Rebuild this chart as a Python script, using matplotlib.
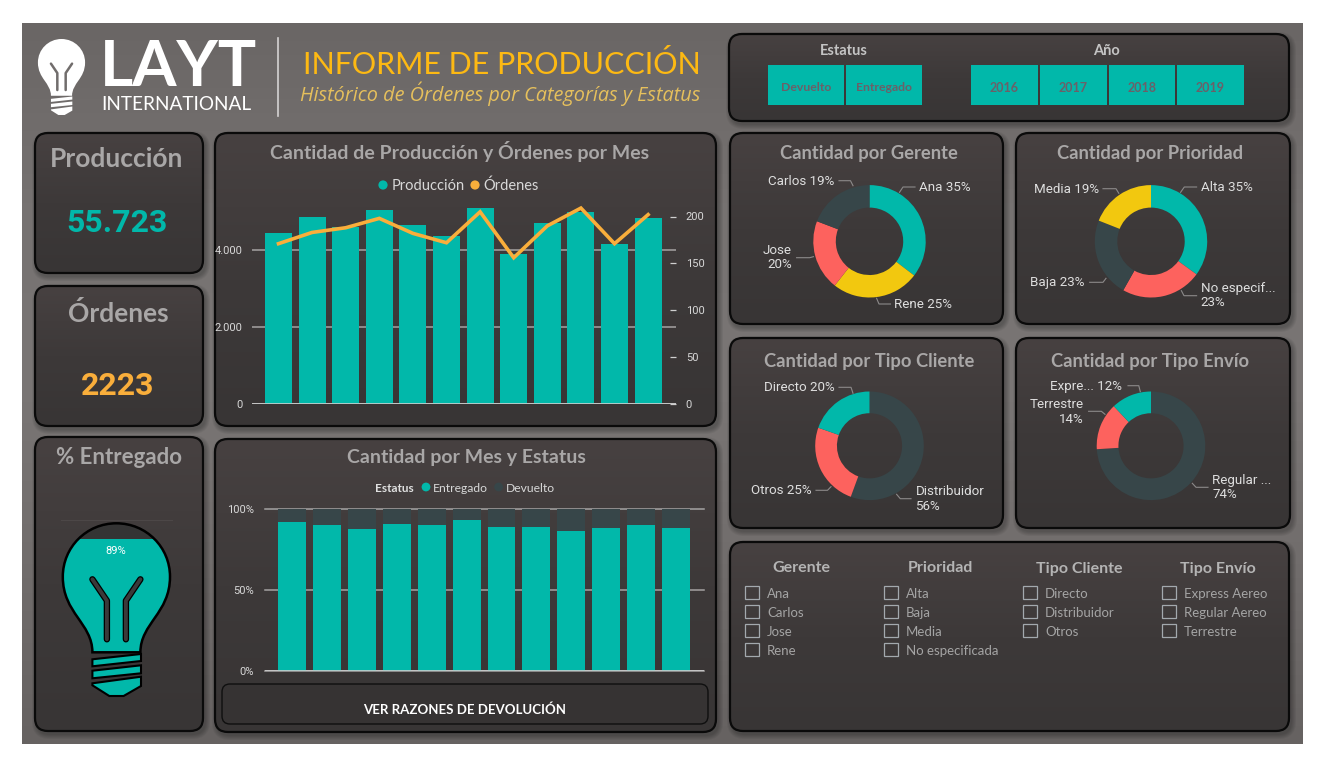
import numpy as np
import matplotlib
matplotlib.use("Agg")
import matplotlib.pyplot as plt
from matplotlib.patches import FancyBboxPatch, PathPatch, Polygon, Rectangle
from matplotlib.path import Path
from matplotlib.colors import LinearSegmentedColormap

W, H = 1323, 761

# datos
meses = ["Ene", "Feb", "Mar", "Abr", "May", "Jun", "Jul", "Ago", "Sep", "Oct", "Nov", "Dic"]
produccion = [4442, 4857, 4597, 5039, 4650, 4364, 5091, 3896, 4700, 4987, 4156, 4831]
ordenes = [171, 183, 188, 198, 182, 172, 205, 156, 190, 209, 171, 202]
entregado = [91.8, 89.9, 87.4, 91.0, 89.9, 93.0, 88.7, 88.7, 86.2, 88.0, 89.9, 88.0]
devuelto = [8.2, 10.1, 12.6, 9.0, 10.1, 7.0, 11.3, 11.3, 13.8, 12.0, 10.1, 12.0]

gerente_val = [35.4, 25.2, 20.2, 19.2]
prioridad_val = [35.0, 23.2, 22.8, 19.0]
cliente_val = [55.6, 24.8, 19.6]
envio_val = [74.0, 14.0, 12.0]

total_produccion = "55.723"
total_ordenes = "2223"
pct_entregado = 89

estatus_botones = ["Devuelto", "Entregado"]
anio_botones = ["2016", "2017", "2018", "2019"]
filtros = {
    "Gerente": ["Ana", "Carlos", "Jose", "Rene"],
    "Prioridad": ["Alta", "Baja", "Media", "No especificada"],
    "Tipo Cliente": ["Directo", "Distribuidor", "Otros"],
    "Tipo Envío": ["Express Aereo", "Regular Aereo", "Terrestre"],
}

TEAL = "#01B8AA"
DARK = "#374649"
RED = "#FD625E"
YELLOW = "#F2C80F"
ORANGE = "#F9AE3B"
GREY_T = "#A9A7A7"
LABEL = "#D8D8D8"

plt.rcParams["font.family"] = ["Lato", "DejaVu Sans"]

fig = plt.figure(figsize=(W / 100, H / 100), dpi=100, facecolor="white")


def px_axes(x0, y0, x1, y1, **kw):
    return fig.add_axes([x0 / W, 1 - y1 / H, (x1 - x0) / W, (y1 - y0) / H], **kw)


bg = fig.add_axes([0, 0, 1, 1], zorder=0)
bg.set_axis_off()

grad_bg = LinearSegmentedColormap.from_list("bg", ["#6A6665", "#767271", "#7A7675", "#716D6C", "#666261"])
bg.imshow(np.linspace(0, 1, 200).reshape(-1, 1), extent=(22, 1303, 744, 23), cmap=grad_bg, aspect="auto", zorder=0)
grad_panel = LinearSegmentedColormap.from_list("panel", ["#474141", "#3D3939", "#383535"])


def panel(x0, y0, x1, y1, r=13):
    for i in range(5):
        e = 5 - i
        bg.add_patch(FancyBboxPatch((x0 + 2 - e, y0 + 3 - e), x1 - x0 + 2 * e, y1 - y0 + 2 * e,
                                    boxstyle=f"round,pad=0,rounding_size={r + e}",
                                    fc="black", ec="none", alpha=0.05, zorder=1))
    box = FancyBboxPatch((x0, y0), x1 - x0, y1 - y0, boxstyle=f"round,pad=0,rounding_size={r}",
                         fc="none", ec="none", zorder=2)
    bg.add_patch(box)
    im = bg.imshow(np.linspace(0, 1, 100).reshape(-1, 1), extent=(x0, x1, y1, y0), cmap=grad_panel,
                   aspect="auto", zorder=2)
    im.set_clip_path(box)
    bg.add_patch(FancyBboxPatch((x0, y0), x1 - x0, y1 - y0, boxstyle=f"round,pad=0,rounding_size={r}",
                                fc="none", ec="#0A0A0A", lw=1.6, zorder=3))


for p in [(729, 34, 1289, 121), (35, 133, 203, 273), (35, 286, 203, 426), (35, 437, 203, 731),
          (215, 133, 716, 426), (215, 439, 716, 732), (730, 133, 1003, 324), (1016, 133, 1290, 324),
          (730, 338, 1003, 528), (1016, 338, 1290, 528), (730, 542, 1289, 731)]:
    panel(*p)


def txt(x, y, s, size, color, ha="center", weight="normal", family=None, style="normal", va="center"):
    return bg.text(x, y, s, fontsize=size, color=color, ha=ha, va=va, fontweight=weight,
                   family=family or ["Lato", "DejaVu Sans"], fontstyle=style, zorder=6)


def bulb(cx, top, s, fill, outline=None, level=None, fill_top=None, fil_col="#3A3A3A"):
    def pts(lst):
        return [(cx + s * a, top + s * b) for a, b in lst]

    glass = Path(pts([(-24, 129), (-24, 100), (-53.6, 90), (-53.6, 53.4), (-53.6, 24), (-30, 0), (0, 0),
                      (30, 0), (53.6, 24), (53.6, 53.4), (53.6, 90), (24, 100), (24, 129), (-24, 129)]),
                 [Path.MOVETO] + [Path.CURVE4] * 12 + [Path.CLOSEPOLY])
    base = PathPatch(glass, fc=fill_top or fill, ec="none", zorder=4)
    bg.add_patch(base)
    if level is not None:
        r = Rectangle((cx - 60 * s, level), 120 * s, top + 140 * s - level, fc=fill, ec="none", zorder=4)
        bg.add_patch(r)
        r.set_clip_path(base)
    if outline:
        bg.add_patch(PathPatch(glass, fc="none", ec=outline, lw=1.8, zorder=5))
    edge = outline or "none"
    for poly in [[(-24, 136), (24.6, 130.7), (24.6, 137.7), (-24, 143)],
                 [(-24, 147.4), (24.6, 142), (24.6, 150), (-24, 155)],
                 [(-24, 160), (24.6, 153.4), (24.6, 162.7), (7.2, 172.7), (-7.1, 172.7), (-24, 162)]]:
        bg.add_patch(Polygon(pts(poly), closed=True, fc=fill, ec=edge, lw=1.5, zorder=5))
    for side in (-1, 1):
        fil = np.array(pts([(side * 24, 56), (side * 9.5, 77.4), (side * 9.5, 116)]))
        if outline:
            bg.plot(fil[:, 0], fil[:, 1], color="black", lw=4.6, solid_capstyle="round", zorder=5)
        bg.plot(fil[:, 0], fil[:, 1], color=fil_col, lw=2.8 if outline else 1.8, solid_capstyle="round", zorder=6)


# cabecera con logo
bulb(61.5, 39, 0.44, "white", fil_col="#716D6C")
txt(100, 68, "LAYT", 46, "white", ha="left", weight="bold")
txt(101, 105, "INTERNATIONAL", 13.7, "white", ha="left")
bg.plot([278, 278], [38, 116], color="#D5D3D3", lw=1.2, zorder=5)
txt(303, 65, "INFORME DE PRODUCCIÓN", 22, "#FDB913", ha="left")
txt(300, 94, "Histórico de Órdenes por Categorías y Estatus", 14.3, "#E6C05C", ha="left", style="italic",
    family="Open Sans")

# slicers de arriba
txt(844, 51, "Estatus", 10.5, "#C4C4C4", weight="bold")
txt(1106, 51, "Año", 10.5, "#C4C4C4", weight="bold")
for s, (a, b) in zip(estatus_botones, [(768, 844), (846, 922)]):
    bg.add_patch(Rectangle((a, 65), b - a, 40, fc=TEAL, ec="none", zorder=4))
    txt((a + b) / 2, 87.5, s, 8.8, "#6B6068", weight="bold")
for s, (a, b) in zip(anio_botones, [(971, 1038), (1040, 1107), (1109, 1175), (1177, 1244)]):
    bg.add_patch(Rectangle((a, 65), b - a, 40, fc=TEAL, ec="none", zorder=4))
    txt((a + b) / 2, 87.5, s, 9, "#6B6068", weight="bold")

# tarjetas
txt(117, 159, "Producción", 19, GREY_T, weight="bold")
txt(117, 223, total_produccion, 23, TEAL, weight="bold", family="Roboto")
txt(118, 314, "Órdenes", 19, GREY_T, weight="bold")
txt(118, 386, total_ordenes, 23, ORANGE, weight="bold", family="Roboto")
txt(119, 458, "% Entregado", 16, GREY_T, weight="bold")

bg.plot([61, 172], [520, 520], color="#4C4747", lw=0.8, zorder=4)
nivel = 696 - pct_entregado / 100 * (696 - 520)
bulb(116.4, 523.3, 1, TEAL, outline="black", level=nivel, fill_top="#343434")
txt(116, 551, f"{pct_entregado}%", 8, "white", family="Roboto")

# grafico 1: produccion y ordenes
ax = px_axes(252, 200, 676, 404, zorder=2)
ax.patch.set_alpha(0)
x = np.arange(len(meses))
ax.bar(x, produccion, width=0.8, color=TEAL, zorder=3)
ax.set_xlim(-0.789, 11.83)
ax.set_ylim(0, 204 / 0.0385)
ax.set_yticks([0, 2000, 4000])
ax.set_yticklabels(["0", "2.000", "4.000"], color=LABEL, fontsize=8, family="Roboto")
ax.set_xticks([])
ax.tick_params(axis="y", length=0, pad=7)
ax.grid(axis="y", color="#A5A3A3", lw=1.1, zorder=0)
ax.set_axisbelow(True)
for s in ax.spines.values():
    s.set_visible(False)
ax.axhline(0, color="#CFCFCF", lw=1.2, zorder=4)

ax2 = ax.twinx()
ax2.patch.set_alpha(0)
ax2.plot(x, ordenes, color=ORANGE, lw=2.6, solid_joinstyle="miter", zorder=5)
ax2.set_ylim(0, 204 / 0.9375)
ax2.set_yticks([0, 50, 100, 150, 200])
ax2.set_yticklabels(["0", "50", "100", "150", "200"], color=LABEL, fontsize=8, family="Roboto")
ax2.tick_params(axis="y", direction="in", length=4.3, width=0.9, color="#D0D0D0", pad=7)
for s in ax2.spines.values():
    s.set_visible(False)

txt(460, 152, "Cantidad de Producción y Órdenes por Mes", 14, GREY_T, weight="bold")
bg.scatter([383, 475], [185, 185], s=44, color=[TEAL, ORANGE], zorder=6, linewidths=0)
txt(391.5, 185.5, "Producción", 10.5, LABEL, ha="left")
txt(483, 185.5, "Órdenes", 10.5, LABEL, ha="left")

# grafico 2: mes y estatus
ax3 = px_axes(265, 509, 704, 671, zorder=2)
ax3.patch.set_alpha(0)
x3 = np.arange(len(meses))
ax3.bar(x3, entregado, width=0.8, color=TEAL, zorder=3)
ax3.bar(x3, devuelto, bottom=entregado, width=0.8, color=DARK, zorder=3)
ax3.set_xlim(-0.774, 11.8)
ax3.set_ylim(0, 100)
ax3.set_yticks([0, 50, 100])
ax3.set_yticklabels(["0%", "50%", "100%"], color=LABEL, fontsize=8, family="Roboto")
ax3.set_xticks([])
ax3.tick_params(axis="y", length=0, pad=8)
ax3.grid(axis="y", color="#A5A3A3", lw=1.1, zorder=0, clip_on=False)
ax3.set_axisbelow(True)
for s in ax3.spines.values():
    s.set_visible(False)
ax3.axhline(0, color="#CFCFCF", lw=1.2, zorder=4)

txt(466, 458, "Cantidad por Mes y Estatus", 14, GREY_T, weight="bold")
txt(375, 488, "Estatus", 8.5, "#E0E0E0", ha="left", weight="bold")
bg.scatter([426, 498.6], [487, 487], s=40, color=[TEAL, DARK], zorder=6, linewidths=0)
txt(433, 488, "Entregado", 8.7, LABEL, ha="left")
txt(506, 488, "Devuelto", 8.7, LABEL, ha="left")

bg.add_patch(FancyBboxPatch((222, 684), 486, 40, boxstyle="round,pad=0,rounding_size=8",
                            fc="#363333", ec="#0F0F0F", lw=1, zorder=4))
txt(465, 710, "VER RAZONES DE DEVOLUCIÓN", 9.5, "white", weight="bold")


# donas
def dona(cx, cy, r, valores, colores, titulo, tx_titulo, ty, etiquetas):
    a = px_axes(cx - r, cy - r, cx + r, cy + r, zorder=2)
    a.pie(valores, colors=colores, startangle=90, counterclock=False, radius=1,
          wedgeprops=dict(width=0.4, edgecolor="none"))
    a.set_xlim(-1, 1)
    a.set_ylim(-1, 1)
    txt(tx_titulo, ty, titulo, 13.2, GREY_T, weight="bold")
    for s, tx, tys, ha, linea in etiquetas:
        for linea_txt, yy in zip(s.split("\n"), tys):
            txt(tx, yy + 0.8, linea_txt, 9.6, "#DEDEDE", ha=ha, family="Roboto")
        lx, ly = zip(*linea)
        bg.plot(lx, ly, color="#8C8A8A", lw=0.8, zorder=5)


dona(869.5, 241.3, 56.2, gerente_val, [TEAL, YELLOW, RED, DARK], "Cantidad por Gerente", 869, 154, [
    ("Ana 35%", 919, [187], "left", [(899.5, 192.3), (903, 187), (915, 187)]),
    ("Rene 25%", 894, [303.7], "left", [(876.6, 298.3), (879, 304), (890.5, 304)]),
    ("Jose\n20%", 792, [250, 264], "right", [(813.4, 256.7), (809.7, 257.7), (796.6, 257.7)]),
    ("Carlos 19%", 834.5, [180.7], "right", [(853, 185.7), (850.5, 180.7), (839, 180.7)]),
])
dona(1151, 241.3, 56.2, prioridad_val, [TEAL, RED, DARK, YELLOW], "Cantidad por Prioridad", 1150.5, 154, [
    ("Alta 35%", 1200.6, [187], "left", [(1180.6, 192.3), (1184.3, 187), (1196.6, 187)]),
    ("No especif...\n23%", 1200.6, [287.7, 301.7], "left", [(1181.4, 290.7), (1184, 295.7), (1196.6, 295.7)]),
    ("Baja 23%", 1085, [281.7], "right", [(1106, 278.3), (1103, 282.3), (1089.7, 282.3)]),
    ("Media 19%", 1098.8, [188.7], "right", [(1118.8, 193.3), (1116, 188.7), (1103, 188.7)]),
])
dona(869.5, 445.8, 54.3, cliente_val, [DARK, RED, TEAL], "Cantidad por Tipo Cliente", 869, 361, [
    ("Directo 20%", 834.5, [386.7], "right", [(853, 393.3), (851, 387.3), (839, 387.3)]),
    ("Distribuidor\n56%", 915.5, [491, 505.3], "left", [(896.6, 494.3), (900.3, 498.7), (911, 498.7)]),
    ("Otros 25%", 811.5, [490], "right", [(831, 486.7), (827.5, 490.3), (816, 490.3)]),
])
dona(1151, 445.8, 54.3, envio_val, [DARK, RED, TEAL], "Cantidad por Tipo Envío", 1150.5, 361, [
    ("Expre... 12%", 1122.5, [385.7], "right", [(1140.3, 391.7), (1138.8, 385.7), (1128, 385.7)]),
    ("Terrestre\n14%", 1083.5, [404, 418.3], "right", [(1105, 414.3), (1101.4, 411.3), (1088.6, 411.3)]),
    ("Regular ...\n74%", 1212.3, [479.7, 493.7], "left", [(1192.3, 483.3), (1196, 487.3), (1208, 487.3)]),
])

# slicers de abajo
col_centro = [801, 940, 1079.5, 1218]
col_caja = [745, 884, 1023, 1162]
col_txt = [767, 906, 1045, 1184]
filas_y = [592.3, 611.3, 630.3, 649.3]
for (nombre, items), c, bx, tx in zip(filtros.items(), col_centro, col_caja, col_txt):
    txt(c, 568.5, nombre, 11.5, "#B4B4B4", weight="bold")
    for item, yy in zip(items, filas_y):
        bg.add_patch(Rectangle((bx, yy - 6.3), 13.5, 12.6, fc="none", ec="#A3A9AE", lw=0.9, zorder=5))
        txt(tx, yy + 1.5, item, 9.5, "#A4A4A4", ha="left")

bg.set_xlim(0, W)
bg.set_ylim(H, 0)

fig.savefig("out.png", dpi=100, facecolor="white")
